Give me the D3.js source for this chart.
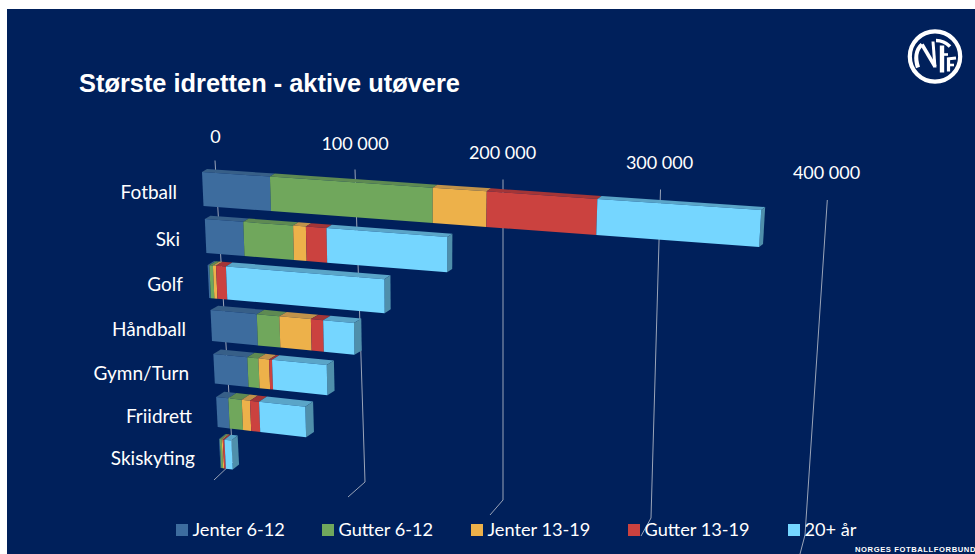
<!DOCTYPE html>
<html><head><meta charset="utf-8">
<script src="https://cdn.jsdelivr.net/npm/d3@7"></script>
<style>html,body{margin:0;padding:0;background:#fff}svg{display:block}</style>
</head><body><div id="c"></div>
<script>
const categories=["Fotball","Ski","Golf","Håndball","Gymn/Turn","Friidrett","Skiskyting"];
const seriesNames=["Jenter 6-12","Gutter 6-12","Jenter 13-19","Gutter 13-19","20+ år"];
const jenter612=[47500,27000,1200,32800,24200,8700,500];
const gutter612=[111000,35000,2500,16000,7900,9600,1400];
const jenter1319=[36000,9000,2200,22400,7600,5900,800];
const gutter1319=[69500,14500,7000,8700,2100,6500,1200];
const voksne=[98500,82000,111000,21800,39000,33100,5000];
const tickValues=[0,100000,200000,300000,400000];
const tickLabels=["0","100 000","200 000","300 000","400 000"];
const series=[jenter612,gutter612,jenter1319,gutter1319,voksne];
const front=["#3D6C9E","#70A75C","#EDB14A","#CB423F","#75D6FF"];
const topc=["#375F88","#5E8A52","#C0924A","#A33537","#5AA5C8"];
const sideC="#4F8FAB";

const W=975,H=554,navy="#00205B";
const svg=d3.select("#c").append("svg").attr("width",W).attr("height",H);
svg.append("rect").attr("x",7).attr("y",9).attr("width",W-7).attr("height",H-9).attr("fill",navy);

// perspective layout, expressed as scales
const rows=categories.map((_,i)=>i);
const topRange=[202,345,495,655,825], botRange=[219,358,498,650,806];
const rowT=d3.scaleLinear().domain([0,6]).range([0,1]);
const xScale=r=>d3.scaleLinear().domain(tickValues).range(topRange.map((a,k)=>d3.interpolateNumber(a,botRange[k])(rowT(r))));
const rowY=d3.scaleLinear().domain(rows).range([172,219,265,310,354,397,439]);
const rowH=d3.scaleLinear().domain(rows).range([34,34,33,31,29.5,30,29]);
const rowSlope=d3.scaleLinear().domain(rows).range([.068,.074,.08,.09,.097,.11,.12]);
const rowDx=d3.scaleLinear().domain(rows).range([5,5.6,6.4,7.6,7.4,8,6.3]);
const rowDy=d3.scaleLinear().domain(rows).range([3,3.3,4,4.3,4.5,5.3,5]);
function pt(r,v){
  const x=xScale(r), x0=x(v);
  const y0=rowY(r)+rowSlope(r)*(x0-x(0));
  const h=rowH(r)+v*8e-6, sk=1.5-v*1e-5, dx=rowDx(r)-v*3e-6, dy=rowDy(r);
  return {ft:[x0,y0],fb:[x0+sk,y0+h],bt:[x0+dx,y0-dy],bb:[x0+sk+dx,y0+h-dy]};
}
const poly=a=>"M"+a.map(p=>p.map(n=>n.toFixed(2)).join(",")).join("L")+"Z";

// gridlines
const gs=(rng)=>d3.scaleLinear().domain(tickValues).range(rng);
const gx0=gs([215,355,503,660.5,827.3]),gy0=gs([160.5,169.5,179.5,189.5,200]);
const gx1=gs([233,365,503,651,805]),gy1=gs([462,482,500,518,535]);
const gx2=gs([214,348,490,641,800]),gy2=gs([480,497,515,536,554]);
const line=d3.line();
svg.append("g").selectAll("path").data(tickValues).join("path")
 .attr("d",v=>line([[gx0(v),gy0(v)],[gx1(v),gy1(v)],[gx2(v),gy2(v)]]))
 .attr("fill","none").attr("stroke","#9AA4B8").attr("stroke-width",1);

// tick labels
const fontC="Lato, Carlito, sans-serif";
const lx=gs([215.5,355,502.5,659.5,826.5]),ly=gs([143,150,159,169,179]);
svg.append("g").selectAll("text").data(tickValues).join("text")
 .attr("x",v=>lx(v)).attr("y",v=>ly(v)).attr("text-anchor","middle")
 .attr("font-family",fontC).attr("font-size",18).attr("fill","#fff")
 .text((v,i)=>tickLabels[i]);

// bars
rows.forEach(r=>{
  const g=svg.append("g");
  let cum=0;
  const segs=series.map((s,k)=>{const a=cum;cum+=s[r];return {a,b:cum,k};});
  g.selectAll("path.t").data(segs).join("path").attr("class","t")
    .attr("d",d=>{const p=pt(r,d.a),q=pt(r,d.b);return poly([p.ft,q.ft,q.bt,p.bt]);})
    .attr("fill",d=>topc[d.k]);
  const e=pt(r,cum);
  g.append("path").attr("d",poly([e.ft,e.bt,e.bb,e.fb])).attr("fill",sideC);
  g.selectAll("path.f").data(segs).join("path").attr("class","f")
    .attr("d",d=>{const p=pt(r,d.a),q=pt(r,d.b);return poly([p.ft,q.ft,q.fb,p.fb]);})
    .attr("fill",d=>front[d.k]);
});

// categories
const catX=d3.scaleLinear().domain([0,6]).range([177,195]);
const catY=d3.scaleLinear().domain(rows).range([199,246,291,336,380,423,465]);
svg.append("g").selectAll("text").data(categories).join("text")
 .attr("x",(d,i)=>catX(i)).attr("y",(d,i)=>catY(i)).attr("text-anchor","end")
 .attr("font-family",fontC).attr("font-size",19).attr("fill","#fff").text(d=>d);

// title
svg.append("text").attr("x",79).attr("y",92).attr("font-family","Liberation Sans, Arial, sans-serif")
 .attr("font-weight","bold").attr("font-size",25.4).attr("fill","#fff").text("Største idretten - aktive utøvere");

// legend
const legX=[176,322,471,628,788];
const lg=svg.append("g").selectAll("g").data(seriesNames).join("g").attr("transform",(d,i)=>`translate(${legX[i]},524)`);
lg.append("rect").attr("width",12).attr("height",12).attr("fill",(d,i)=>front[i]);
lg.append("text").attr("x",16.5).attr("y",12).attr("font-family",fontC).attr("font-size",18.2).attr("fill","#fff").text(d=>d);

// footer
svg.append("text").attr("x",855).attr("y",551.5).attr("font-family","Liberation Sans, Arial, sans-serif").attr("font-weight","bold")
 .attr("font-size",7.6).attr("letter-spacing",0.6).attr("fill","#fff").text("NORGES FOTBALLFORBUND");

// logo
const lo=svg.append("g").attr("transform","translate(935,56.5)").attr("fill","none").attr("stroke","#fff");
lo.append("circle").attr("r",25.2).attr("fill",navy).attr("stroke-width",4.2);
lo.append("path").attr("stroke-width",4.2).attr("d","M-17,11 C-20,2 -19,-7 -13,-12");
lo.append("path").attr("stroke-width",3.6).attr("d","M-13,-12 L0,10");
lo.append("path").attr("stroke-width",3).attr("d","M-2,-15 L0,11");
lo.append("path").attr("stroke-width",4.4).attr("d","M7,16 L7,-11");
lo.append("path").attr("stroke-width",3.6).attr("d","M1,-16 C6,-16 11,-14 15,-10");
lo.append("path").attr("stroke-width",2.6).attr("d","M7,-2 L13,-2");
lo.append("path").attr("stroke-width",3.2).attr("d","M13.5,15 L13.5,2");
lo.append("path").attr("stroke-width",2.8).attr("d","M12,2.5 L21,1.5");
lo.append("path").attr("stroke-width",2.6).attr("d","M13,8.5 L19,8.5");
</script></body></html>
